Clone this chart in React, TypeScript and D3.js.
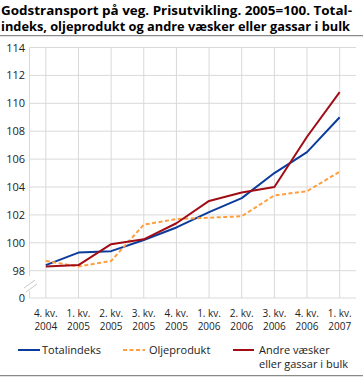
import * as React from 'react';
import * as d3 from 'd3';

const quarters = [
  ['4. kv.', '2004'], ['1. kv.', '2005'], ['2. kv.', '2005'], ['3. kv.', '2005'], ['4. kv.', '2005'],
  ['1. kv.', '2006'], ['2. kv.', '2006'], ['3. kv.', '2006'], ['4. kv.', '2006'], ['1. kv.', '2007'],
];
const totalindeks = [98.4, 99.3, 99.4, 100.2, 101.1, 102.2, 103.2, 105.0, 106.5, 109.0];
const oljeprodukt = [98.7, 98.3, 98.7, 101.3, 101.7, 101.8, 101.9, 103.4, 103.7, 105.1];
const andre = [98.3, 98.4, 99.9, 100.25, 101.4, 103.0, 103.6, 104.0, 107.6, 110.8];
const yTicks = [98, 100, 102, 104, 106, 108, 110, 112, 114];

const W = 363;
const H = 377;
const font = '"Open Sans", "Noto Sans", sans-serif';

export default function App() {
  const keys = quarters.map((q) => q.join(' '));
  const x = d3.scaleBand().domain(keys).range([29.5, 356]).padding(0);
  const cx = (i: number) => (x(keys[i]) as number) + x.bandwidth() / 2;
  const y = d3.scaleLinear().domain([98, 114]).range([270.7, 47.5]);
  const y0 = 298;
  const line = d3.line<number>().x((_, i) => cx(i)).y((d) => y(d));

  const series = [
    { name: 'Totalindeks', values: totalindeks, color: '#0b3c9c', dash: undefined as string | undefined },
    { name: 'Oljeprodukt', values: oljeprodukt, color: '#ff9e3d', dash: '4,2.5' },
    { name: 'Andre', values: andre, color: '#a00d16', dash: undefined },
  ];

  const grid = '#d9d9d9';
  return (
    <svg width={W} height={H} style={{ position: 'absolute', left: 0, top: 0 }} fontFamily={font}>
      <rect width={W} height={H} fill="#fff" />
      <text x={1} y={14.5} fontSize={12.6} fontWeight="bold" fill="#000" textLength={351} lengthAdjust="spacingAndGlyphs">
        Godstransport på veg. Prisutvikling. 2005=100. Total-
      </text>
      <text x={1} y={31} fontSize={12.6} fontWeight="bold" fill="#000" textLength={349} lengthAdjust="spacingAndGlyphs">
        indeks, oljeprodukt og andre væsker eller gassar i bulk
      </text>
      <line x1={0} x2={W} y1={35.7} y2={35.7} stroke="#8a8a8a" strokeWidth={1.2} />

      {keys.map((k, i) => (
        <line key={k} x1={cx(i)} x2={cx(i)} y1={y(114)} y2={y0} stroke={grid} strokeWidth={1} />
      ))}
      {yTicks.map((t) => (
        <g key={t}>
          <line x1={29.5} x2={356} y1={y(t)} y2={y(t)} stroke={grid} strokeWidth={1} />
          <text x={25} y={y(t) + 4} fontSize={11} textAnchor="end" fill="#222">{t}</text>
        </g>
      ))}
      <line x1={29.5} x2={356} y1={y0} y2={y0} stroke={grid} strokeWidth={1} />
      <text x={25} y={y0 + 4} fontSize={11} textAnchor="end" fill="#222">0</text>
      <line x1={29.5} x2={29.5} y1={y(114)} y2={276} stroke={grid} strokeWidth={1} />
      <line x1={29.5} x2={29.5} y1={291} y2={y0} stroke={grid} strokeWidth={1} />
      <line x1={24} x2={35} y1={288} y2={280} stroke="#c8c8c8" strokeWidth={1} />
      <line x1={26} x2={37} y1={292} y2={284} stroke="#c8c8c8" strokeWidth={1} />

      {series.map((s) => (
        <path key={s.name} d={line(s.values) ?? ''} fill="none" stroke={s.color} strokeWidth={2}
          strokeDasharray={s.dash} strokeLinejoin="round" />
      ))}

      {quarters.map((q, i) => (
        <text key={i} x={cx(i)} y={317} fontSize={10} textAnchor="middle" fill="#222">
          <tspan x={cx(i)}>{q[0]}</tspan>
          <tspan x={cx(i)} dy={13}>{q[1]}</tspan>
        </text>
      ))}

      <line x1={18} x2={40} y1={350} y2={350} stroke={series[0].color} strokeWidth={2} />
      <text x={42} y={354} fontSize={11} fill="#222">Totalindeks</text>
      <line x1={123} x2={145} y1={350} y2={350} stroke={series[1].color} strokeWidth={2} strokeDasharray="4,2.5" />
      <text x={149} y={354} fontSize={11} fill="#222">Oljeprodukt</text>
      <line x1={233} x2={254} y1={350} y2={350} stroke={series[2].color} strokeWidth={2} />
      <text x={259} y={354} fontSize={11} fill="#222">Andre væsker</text>
      <text x={259} y={368} fontSize={11} fill="#222">eller gassar i bulk</text>
      <line x1={0} x2={W} y1={375.7} y2={375.7} stroke="#8a8a8a" strokeWidth={1.2} />
    </svg>
  );
}
